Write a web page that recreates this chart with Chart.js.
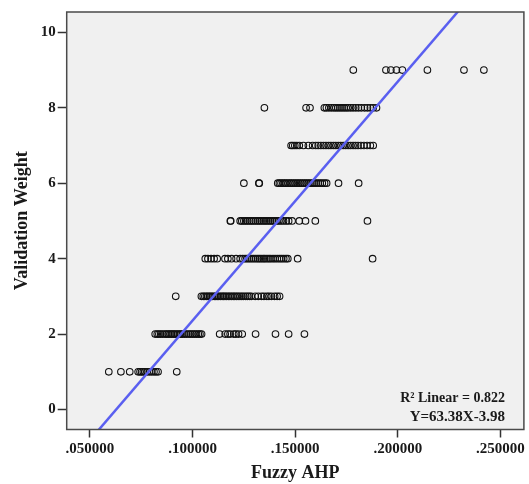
<!DOCTYPE html>
<html>
<head>
<meta charset="utf-8">
<script src="https://cdn.jsdelivr.net/npm/chart.js@4.4.1/dist/chart.umd.min.js"></script>
<style>
  body { margin: 0; background: #fff; }
  #chart { display: block; }
</style>
</head>
<body>
<canvas id="chart" width="529" height="484"></canvas>
<script>
var weights = [1, 2, 3, 4, 5, 6, 7, 8, 9];

var w1 = [0.0592, 0.0651, 0.0694, 0.0735, 0.0744, 0.0752, 0.0760, 0.0768, 0.0779, 0.0790,
    0.0801, 0.0812, 0.0822, 0.0832, 0.0923];
var w2 = [0.0818, 0.0828, 0.0836, 0.0845, 0.0855, 0.0866, 0.0874, 0.0882, 0.0890, 0.0897,
    0.0905, 0.0912, 0.0920, 0.0928, 0.0936, 0.0944, 0.0952, 0.0962, 0.0972, 0.0983,
    0.0992, 0.1001, 0.1010, 0.1019, 0.1028, 0.1036, 0.1044, 0.1132, 0.1159, 0.1172,
    0.1183, 0.1201, 0.1211, 0.1224, 0.1242, 0.1307, 0.1404, 0.1468, 0.1545];
var w3 = [0.0918, 0.1043, 0.1052, 0.1060, 0.1068, 0.1075, 0.1083, 0.1090, 0.1098, 0.1106,
    0.1113, 0.1120, 0.1128, 0.1136, 0.1144, 0.1151, 0.1158, 0.1166, 0.1174, 0.1182,
    0.1190, 0.1198, 0.1206, 0.1214, 0.1222, 0.1231, 0.1240, 0.1249, 0.1259, 0.1268,
    0.1277, 0.1286, 0.1305, 0.1320, 0.1336, 0.1348, 0.1362, 0.1372, 0.1384, 0.1400,
    0.1412, 0.1424];
var w4 = [0.1062, 0.1075, 0.1090, 0.1105, 0.1120, 0.1158, 0.1172, 0.1190, 0.1212, 0.1232,
    0.1245, 0.1256, 0.1266, 0.1276, 0.1286, 0.1296, 0.1306, 0.1316, 0.1325, 0.1334,
    0.1344, 0.1352, 0.1362, 0.1372, 0.1381, 0.1392, 0.1402, 0.1413, 0.1424, 0.1434,
    0.1444, 0.1455, 0.1464, 0.1512, 0.1877];
var w5 = [0.1184, 0.1186, 0.1232, 0.1240, 0.1250, 0.1259, 0.1268, 0.1278, 0.1287, 0.1296,
    0.1306, 0.1316, 0.1325, 0.1334, 0.1344, 0.1353, 0.1362, 0.1372, 0.1381, 0.1391,
    0.1400, 0.1410, 0.1420, 0.1431, 0.1443, 0.1456, 0.1468, 0.1485, 0.1520, 0.1550,
    0.1598, 0.1852];
var w6 = [0.1250, 0.1323, 0.1325, 0.1415, 0.1423, 0.1431, 0.1440, 0.1448, 0.1456, 0.1465,
    0.1474, 0.1482, 0.1491, 0.1500, 0.1509, 0.1518, 0.1527, 0.1536, 0.1545, 0.1554,
    0.1563, 0.1572, 0.1582, 0.1592, 0.1602, 0.1612, 0.1622, 0.1632, 0.1643, 0.1653,
    0.1711, 0.1809];
var w7 = [0.1480, 0.1488, 0.1498, 0.1508, 0.1520, 0.1540, 0.1564, 0.1585, 0.1600, 0.1612,
    0.1625, 0.1638, 0.1650, 0.1662, 0.1674, 0.1686, 0.1698, 0.1710, 0.1722, 0.1734,
    0.1746, 0.1758, 0.1770, 0.1782, 0.1794, 0.1806, 0.1820, 0.1835, 0.1850, 0.1866,
    0.1880];
var w8 = [0.1350, 0.1553, 0.1572, 0.1642, 0.1652, 0.1664, 0.1676, 0.1688, 0.1698, 0.1708,
    0.1718, 0.1728, 0.1738, 0.1748, 0.1758, 0.1770, 0.1782, 0.1795, 0.1808, 0.1822,
    0.1838, 0.1852, 0.1866, 0.1880, 0.1896];
var w9 = [0.1783, 0.1942, 0.1966, 0.1993, 0.2022, 0.2144, 0.2322, 0.2419];

var rows = [w1, w2, w3, w4, w5, w6, w7, w8, w9];

// fit line as printed on the chart
var slope = 63.38;
var intercept = -3.98;
var r2 = 0.822;

var xTicks = [0.05, 0.10, 0.15, 0.20, 0.25];
var yTicks = [0, 2, 4, 6, 8, 10];
var xMin = 0.0387, xMax = 0.2614;
var yMin = -0.53, yMax = 10.54;

var points = [];
rows.forEach(function (xs, i) {
    xs.forEach(function (x) { points.push({ x: x, y: weights[i] }); });
});

var fitLine = [xMin, xMax].map(function (x) { return { x: x, y: slope * x + intercept }; });

var serif = '"Liberation Serif", "Times New Roman", serif';

var framePlugin = {
    id: 'frame',
    beforeDraw: function (chart) {
        var a = chart.chartArea, ctx = chart.ctx;
        ctx.save();
        ctx.fillStyle = '#f0f0f0';
        ctx.fillRect(a.left, a.top, a.right - a.left, a.bottom - a.top);
        ctx.restore();
    },
    afterDraw: function (chart) {
        var a = chart.chartArea, ctx = chart.ctx;
        ctx.save();
        ctx.strokeStyle = '#4a4a4a';
        ctx.lineWidth = 1.5;
        ctx.strokeRect(a.left, a.top, a.right - a.left, a.bottom - a.top);
        // fit summary text
        ctx.fillStyle = '#1a1a1a';
        ctx.textAlign = 'right';
        ctx.textBaseline = 'middle';
        ctx.font = 'bold 14px ' + serif;
        ctx.fillText('R\u00B2 Linear = ' + r2.toFixed(3), a.right - 19, 398);
        ctx.font = 'bold 15px ' + serif;
        ctx.fillText('Y=' + slope + 'X' + intercept, a.right - 19, 417);
        ctx.restore();
    }
};

new Chart(document.getElementById('chart').getContext('2d'), {
    type: 'scatter',
    data: {
        datasets: [{
            type: 'line',
            data: fitLine,
            borderColor: '#5a5ff0',
            borderWidth: 2.5,
            pointRadius: 0,
            fill: false
        }, {
            data: points,
            pointStyle: 'circle',
            pointRadius: 3.3,
            pointBorderWidth: 1.1,
            pointBorderColor: '#111',
            pointBackgroundColor: 'rgba(0,0,0,0)'
        }]
    },
    options: {
        responsive: false,
        animation: false,
        layout: { padding: { top: 12, right: 4, left: 0, bottom: 0 } },
        plugins: { legend: { display: false }, tooltip: { enabled: false } },
        scales: {
            x: {
                type: 'linear',
                min: xMin,
                max: xMax,
                afterBuildTicks: function (s) { s.ticks = xTicks.map(function (v) { return { value: v }; }); },
                afterFit: function (s) { s.height = 54.5; },
                grid: { drawOnChartArea: false, drawTicks: true, tickLength: 8, tickColor: '#333', tickWidth: 1.5 },
                border: { display: false },
                ticks: {
                    color: '#1a1a1a',
                    padding: 3,
                    font: { family: serif, size: 15, weight: 'bold' },
                    callback: function (v) { return v.toFixed(6).replace(/^0/, ''); }
                },
                title: { display: true, text: 'Fuzzy AHP', color: '#1a1a1a', padding: { top: 0, bottom: 0 },
                    font: { family: serif, size: 18, weight: 'bold' } }
            },
            y: {
                type: 'linear',
                min: yMin,
                max: yMax,
                afterBuildTicks: function (s) { s.ticks = yTicks.map(function (v) { return { value: v }; }); },
                afterFit: function (s) { s.width = 66.7; },
                grid: { drawOnChartArea: false, drawTicks: true, tickLength: 9, tickColor: '#333', tickWidth: 1.5 },
                border: { display: false },
                ticks: {
                    color: '#1a1a1a',
                    padding: 2,
                    font: { family: serif, size: 15, weight: 'bold' }
                },
                title: { display: true, text: 'Validation Weight', color: '#1a1a1a', padding: { top: 12, bottom: 0 },
                    font: { family: serif, size: 18, weight: 'bold' } }
            }
        }
    },
    plugins: [framePlugin]
});
</script>
</body>
</html>
